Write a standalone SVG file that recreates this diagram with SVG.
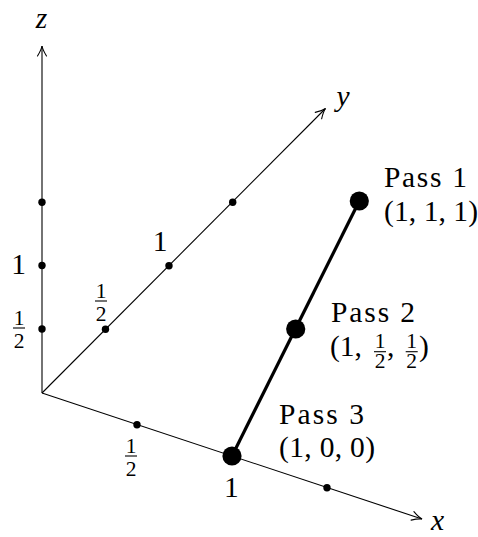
<svg xmlns="http://www.w3.org/2000/svg" width="478" height="537" viewBox="0 0 478 537">
<style>
  .axis { stroke: #000; stroke-width: 1.1; fill: none; }
  .seg { stroke: #000; stroke-width: 3.2; fill: none; }
  .dot { fill: #000; }
  .t { font-family: "Liberation Serif", "Times New Roman", serif; font-size: 29.5px; fill: #000; }
  .v { font-family: "Liberation Serif", "Times New Roman", serif; font-size: 29.5px; font-style: italic; fill: #000; text-anchor: middle; }
  .f { font-family: "Liberation Serif", "Times New Roman", serif; font-size: 21.5px; fill: #000; text-anchor: middle; }
  .bar { stroke: #000; stroke-width: 1.1; }
</style>
<defs>
  <marker id="arr" viewBox="-12 -6 14 12" markerWidth="14" markerHeight="12" refX="0" refY="0" orient="auto" markerUnits="userSpaceOnUse">
    <path d="M -10,-4.5 Q -4,-0.8 0,0 Q -4,0.8 -10,4.5" fill="none" stroke="#000" stroke-width="1.1" stroke-linecap="round"/>
  </marker>
</defs>
<g id="connectors">
  <line class="axis" x1="42" y1="393" x2="42" y2="46" marker-end="url(#arr)"/>
  <line class="axis" x1="42" y1="393" x2="325.5" y2="108.5" marker-end="url(#arr)"/>
  <line class="axis" x1="42" y1="393" x2="422" y2="519" marker-end="url(#arr)"/>
  <line class="seg" x1="232" y1="456" x2="359.3" y2="201"/>
</g>
<g id="axis-z">
  <text class="v" x="41.5" y="28">z</text>
  <circle class="dot" cx="42" cy="329" r="3.7"/>
  <circle class="dot" cx="42" cy="265.5" r="3.7"/>
  <circle class="dot" cx="42" cy="202.3" r="3.7"/>
  <text class="t" x="18.5" y="273.5" text-anchor="middle">1</text>
  <g id="z-half">
    <text class="f" x="19" y="324.5">1</text>
    <line class="bar" x1="13" y1="328" x2="25" y2="328"/>
    <text class="f" x="19" y="347.5">2</text>
  </g>
</g>
<g id="axis-y">
  <text class="v" x="343" y="106">y</text>
  <circle class="dot" cx="105.5" cy="329.3" r="3.7"/>
  <circle class="dot" cx="169" cy="265.7" r="3.7"/>
  <circle class="dot" cx="232.7" cy="202.3" r="3.7"/>
  <text class="t" x="160" y="251" text-anchor="middle">1</text>
  <g id="y-half">
    <text class="f" x="101" y="297.5">1</text>
    <line class="bar" x1="95" y1="301" x2="107" y2="301"/>
    <text class="f" x="101" y="320.5">2</text>
  </g>
</g>
<g id="axis-x">
  <text class="v" x="437.5" y="530">x</text>
  <circle class="dot" cx="137" cy="424.7" r="3.7"/>
  <circle class="dot" cx="327" cy="487.7" r="3.7"/>
  <text class="t" x="231.3" y="497" text-anchor="middle">1</text>
  <g id="x-half">
    <text class="f" x="131" y="452.5">1</text>
    <line class="bar" x1="125" y1="456" x2="137" y2="456"/>
    <text class="f" x="131" y="475.5">2</text>
  </g>
</g>
<g id="pass1">
  <circle class="dot" cx="359.3" cy="201" r="9.6"/>
  <text class="t" x="384" y="187" textLength="83" lengthAdjust="spacing">Pass 1</text>
  <text class="t" x="384" y="221" textLength="94" lengthAdjust="spacing">(1, 1, 1)</text>
</g>
<g id="pass2">
  <circle class="dot" cx="295.7" cy="329" r="9.6"/>
  <text class="t" x="331" y="322" textLength="84" lengthAdjust="spacing">Pass 2</text>
  <text class="t" x="330" y="356">(1,</text>
  <text class="f" x="380" y="348">1</text>
  <line class="bar" x1="374" y1="351.7" x2="386" y2="351.7"/>
  <text class="f" x="380" y="367.5">2</text>
  <text class="t" x="387" y="356">,</text>
  <text class="f" x="411.7" y="348">1</text>
  <line class="bar" x1="405.7" y1="351.7" x2="417.7" y2="351.7"/>
  <text class="f" x="411.7" y="367.5">2</text>
  <text class="t" x="419" y="356">)</text>
</g>
<g id="pass3">
  <circle class="dot" cx="232" cy="456" r="9.6"/>
  <text class="t" x="279" y="423.5" textLength="85" lengthAdjust="spacing">Pass 3</text>
  <text class="t" x="279" y="457" textLength="96" lengthAdjust="spacing">(1, 0, 0)</text>
</g>
</svg>
